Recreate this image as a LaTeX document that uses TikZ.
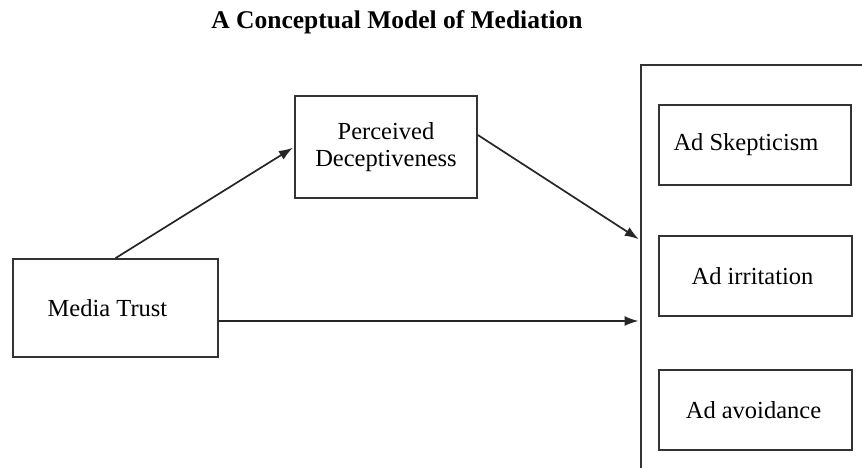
\documentclass[tikz,border=0pt]{standalone}
\usepackage{fontspec}
\setmainfont{Liberation Serif}
\usetikzlibrary{arrows.meta,calc}
\begin{document}
\begin{tikzpicture}[x=1pt,y=-1pt,
  box/.style={draw=black!80,line width=1.7pt,rectangle,inner sep=0pt,align=center,
    font=\fontsize{24.5}{27.5}\selectfont},
  conn/.style={draw=black!85,line width=1.7pt,shorten >=1.5pt,-{Latex[length=14pt,width=10pt]}}]
\clip (0,0) rectangle (862,468);
\fill[white] (0,0) rectangle (862,468);
\node[font=\bfseries\fontsize{25.5}{28}\selectfont] (title) at (397,22) {A Conceptual Model of Mediation};
\node[box,minimum width=205pt,minimum height=98pt] (mt) at (115.5,308) {\hspace*{-16pt}Media Trust};
\node[box,minimum width=182pt,minimum height=102pt] (pd) at (386,147) {Perceived\\Deceptiveness};
\node[draw=black!80,line width=1.7pt,rectangle,inner sep=0pt,anchor=north west,
  minimum width=300pt,minimum height=500pt] (out) at (640,64) {};
\node[box,minimum width=192pt,minimum height=80pt] (sk) at (755,145) {\hspace*{-18pt}Ad Skepticism};
\node[box,minimum width=193pt,minimum height=80pt] (ir) at (755.5,276) {\hspace*{-6pt}Ad irritation};
\node[box,minimum width=193pt,minimum height=80pt] (av) at (755.5,410) {\hspace*{-4pt}Ad avoidance};
\coordinate (in1) at (out.north west |- 0,240);
\coordinate (in2) at (out.north west |- 0,321);
\draw[conn] (mt.north) -- (pd.west);
\draw[conn] ($(pd.east)+(0,-12)$) -- (in1);
\draw[conn] (mt.east |- in2) -- (in2);
\end{tikzpicture}
\end{document}
